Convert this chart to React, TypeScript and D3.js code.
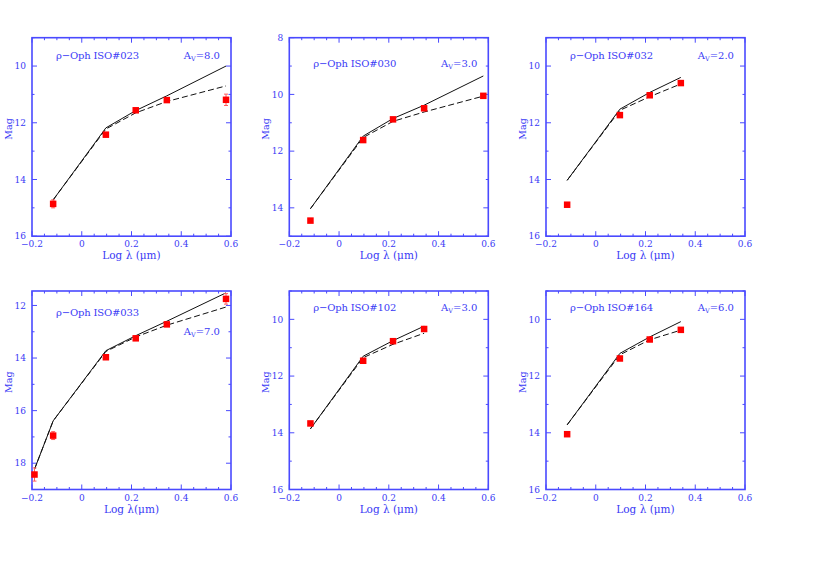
import * as d3 from "d3";
import { useEffect, useRef } from "react";

// photometric bands, log of wavelength in micron
const bandsRIJHKL = [-0.19, -0.115, 0.097, 0.217, 0.342, 0.58];
const bandsIJHKL = [-0.115, 0.097, 0.217, 0.342, 0.58];
const bandsIJHK = [-0.115, 0.097, 0.217, 0.342];

const titles = [
  "ρ−Oph ISO#023",
  "ρ−Oph ISO#030",
  "ρ−Oph ISO#032",
  "ρ−Oph ISO#033",
  "ρ−Oph ISO#102",
  "ρ−Oph ISO#164",
];
const avValues = ["8.0", "3.0", "2.0", "7.0", "3.0", "6.0"];
const xLabels = ["Log λ (μm)", "Log λ (μm)", "Log λ (μm)", "Log λ(μm)", "Log λ (μm)", "Log λ (μm)"];
const xTickValues = [-0.2, 0, 0.2, 0.4, 0.6];
const xTickLabels = ["−0.2", "0", "0.2", "0.4", "0.6"];
const magDomains = [
  [9, 16],
  [8, 15],
  [9, 16],
  [11.45, 19],
  [9, 16],
  [9, 16],
];

// observed magnitudes
const obs023 = [14.86, 12.42, 11.56, 11.2, 11.19];
const err023 = [0.14, 0.05, 0.05, 0.07, 0.2];
const obs030 = [14.45, 11.61, 10.88, 10.49, 10.05];
const err030 = [0.05, 0.05, 0.05, 0.05, 0.05];
const obs032 = [14.89, 11.73, 11.03, 10.6];
const err032 = [0.05, 0.05, 0.05, 0.05];
const obs033 = [18.43, 16.95, 13.97, 13.25, 12.72, 11.75];
const err033 = [0.25, 0.15, 0.05, 0.05, 0.05, 0.2];
const obs102 = [13.67, 11.46, 10.77, 10.34];
const err102 = [0.05, 0.05, 0.05, 0.05];
const obs164 = [14.05, 11.38, 10.71, 10.37];
const err164 = [0.05, 0.05, 0.05, 0.05];

// model photospheres (solid) and reddened models (dashed)
const solid023 = [14.72, 12.18, 11.57, 11.05, 10.0];
const dashed023 = [14.72, 12.22, 11.65, 11.25, 10.7];
const solid030 = [14.03, 11.47, 10.85, 10.38, 9.35];
const dashed030 = [14.03, 11.52, 10.95, 10.62, 10.06];
const solid032 = [14.03, 11.52, 10.93, 10.4];
const dashed032 = [14.03, 11.56, 11.08, 10.63];
const solid033 = [18.23, 16.39, 13.72, 13.15, 12.6, 11.52];
const dashed033 = [18.23, 16.39, 13.75, 13.2, 12.75, 12.06];
const solid102 = [13.86, 11.3, 10.75, 10.24];
const dashed102 = [13.86, 11.35, 10.88, 10.49];
const solid164 = [13.72, 11.2, 10.62, 10.08];
const dashed164 = [13.72, 11.25, 10.72, 10.38];

const panelBands = [bandsIJHKL, bandsIJHKL, bandsIJHK, bandsRIJHKL, bandsIJHK, bandsIJHK];
const panelObs = [obs023, obs030, obs032, obs033, obs102, obs164];
const panelErr = [err023, err030, err032, err033, err102, err164];
const panelSolid = [solid023, solid030, solid032, solid033, solid102, solid164];
const panelDashed = [dashed023, dashed030, dashed032, dashed033, dashed102, dashed164];

const BLUE = "#4a4aff";
const TEXT_BLUE = "#3a3af5";
const FONT = "'DejaVu Serif', serif";

const PLOT_W = 199;
const PLOT_H = 198.5;
const COL_X = [32, 289.3, 546];
const ROW_Y = [37.7, 291];
// title / Av label offsets inside the frame
const TITLE_Y = [21, 29, 21, 25, 20, 20];
const AV_Y = [21, 29, 21, 44, 20, 20];

export default function App() {
  const svgRef = useRef<SVGSVGElement | null>(null);

  useEffect(() => {
    const svg = d3.select(svgRef.current);
    svg.selectAll("*").remove();

    titles.forEach((title, i) => {
      const left = COL_X[i % 3];
      const top = ROW_Y[Math.floor(i / 3)];
      const g = svg.append("g").attr("transform", `translate(${left},${top})`);

      const x = d3.scaleLinear().domain([-0.2, 0.6]).range([0, PLOT_W]);
      const [m0, m1] = magDomains[i];
      const y = d3.scaleLinear().domain([m0, m1]).range([0, PLOT_H]);

      // ticks on all four sides, pointing inward
      const xMinor = d3.range(-0.2, 0.6001, 0.05);
      const yMinor = d3.range(Math.ceil(m0), m1 + 0.001, 1);
      const ticks = g.append("g").attr("stroke", BLUE).attr("stroke-width", 1);
      xMinor.forEach((v) => {
        const major = Math.abs(Math.round(v * 5) - v * 5) < 1e-6;
        const len = major ? 5 : 2.5;
        ticks.append("line").attr("x1", x(v)).attr("x2", x(v)).attr("y1", PLOT_H).attr("y2", PLOT_H - len);
        ticks.append("line").attr("x1", x(v)).attr("x2", x(v)).attr("y1", 0).attr("y2", len);
      });
      yMinor.forEach((v) => {
        const len = v % 2 === 0 ? 5 : 2.5;
        ticks.append("line").attr("x1", 0).attr("x2", len).attr("y1", y(v)).attr("y2", y(v));
        ticks.append("line").attr("x1", PLOT_W).attr("x2", PLOT_W - len).attr("y1", y(v)).attr("y2", y(v));
      });

      g.append("rect")
        .attr("width", PLOT_W)
        .attr("height", PLOT_H)
        .attr("fill", "none")
        .attr("stroke", BLUE)
        .attr("stroke-width", 1.6);

      // tick labels
      g.append("g")
        .selectAll("text")
        .data(xTickValues)
        .join("text")
        .attr("x", (d) => x(d))
        .attr("y", PLOT_H + 11)
        .attr("text-anchor", "middle")
        .attr("font-family", FONT)
        .attr("font-size", 9)
        .attr("fill", TEXT_BLUE)
        .text((_, k) => xTickLabels[k]);

      g.append("g")
        .selectAll("text")
        .data(yMinor.filter((v) => v % 2 === 0))
        .join("text")
        .attr("x", -6)
        .attr("y", (d) => y(d) + 3.2)
        .attr("text-anchor", "end")
        .attr("font-family", FONT)
        .attr("font-size", 9)
        .attr("fill", TEXT_BLUE)
        .text((d) => d);

      g.append("text")
        .attr("transform", `translate(${-20},${PLOT_H / 2 - 8}) rotate(-90)`)
        .attr("text-anchor", "middle")
        .attr("font-family", FONT)
        .attr("font-size", 9.5)
        .attr("fill", TEXT_BLUE)
        .text("Mag");

      g.append("text")
        .attr("x", PLOT_W / 2)
        .attr("y", PLOT_H + 23)
        .attr("text-anchor", "middle")
        .attr("font-family", FONT)
        .attr("font-size", 10.5)
        .attr("fill", TEXT_BLUE)
        .text(xLabels[i]);

      g.append("text")
        .attr("x", 24)
        .attr("y", TITLE_Y[i])
        .attr("font-family", FONT)
        .attr("font-size", 10)
        .attr("fill", TEXT_BLUE)
        .attr("textLength", 83)
        .attr("lengthAdjust", "spacing")
        .text(title);

      const av = g
        .append("text")
        .attr("x", PLOT_W - 11)
        .attr("y", AV_Y[i])
        .attr("text-anchor", "end")
        .attr("font-family", FONT)
        .attr("font-size", 10)
        .attr("fill", TEXT_BLUE);
      av.append("tspan").text("A");
      av.append("tspan").attr("font-size", 6.5).attr("dy", 2).text("V");
      av.append("tspan").attr("dy", -2).text(`=${avValues[i]}`);

      // models
      const bands = panelBands[i];
      const line = d3
        .line<number>()
        .x((_, k) => x(bands[k]))
        .y((d) => y(d));
      g.append("path")
        .attr("d", line(panelSolid[i]))
        .attr("fill", "none")
        .attr("stroke", "#111")
        .attr("stroke-width", 1);
      g.append("path")
        .attr("d", line(panelDashed[i]))
        .attr("fill", "none")
        .attr("stroke", "#111")
        .attr("stroke-width", 1)
        .attr("stroke-dasharray", "6,3");

      // observations with error bars
      const obs = panelObs[i];
      const err = panelErr[i];
      const eb = g.append("g").attr("stroke", "#ff5a5a").attr("stroke-width", 1);
      obs.forEach((m, k) => {
        const cx = x(bands[k]);
        eb.append("line").attr("x1", cx).attr("x2", cx).attr("y1", y(m - err[k])).attr("y2", y(m + err[k]));
        eb.append("line").attr("x1", cx - 2).attr("x2", cx + 2).attr("y1", y(m - err[k])).attr("y2", y(m - err[k]));
        eb.append("line").attr("x1", cx - 2).attr("x2", cx + 2).attr("y1", y(m + err[k])).attr("y2", y(m + err[k]));
      });
      g.append("g")
        .selectAll("rect")
        .data(obs)
        .join("rect")
        .attr("x", (_, k) => x(bands[k]) - 3.25)
        .attr("y", (d) => y(d) - 3.25)
        .attr("width", 6.5)
        .attr("height", 6.5)
        .attr("fill", "#ff0000");
    });
  }, []);

  return (
    <svg
      ref={svgRef}
      width={828}
      height={572}
      style={{ position: "absolute", left: 0, top: 0, background: "#fff" }}
    />
  );
}
